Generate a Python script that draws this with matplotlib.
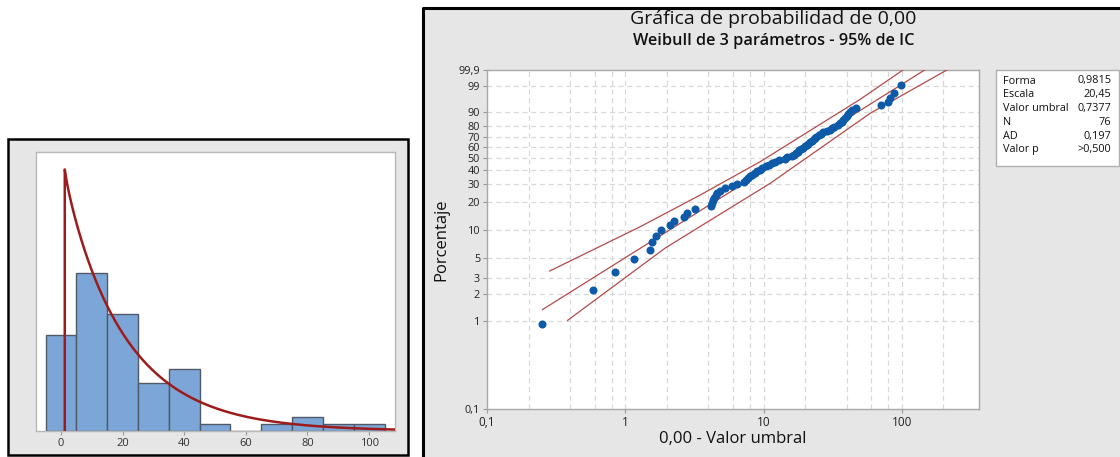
import numpy as np
import matplotlib
matplotlib.use("Agg")
import matplotlib.pyplot as plt
from matplotlib.patches import Rectangle
from matplotlib.lines import Line2D
from matplotlib.ticker import NullLocator, FixedLocator

plt.rcParams['font.family'] = ['Open Sans', 'DejaVu Sans']

# ---------------- data ----------------
title = "Gráfica de probabilidad de 0,00"
subtitle = "Weibull de 3 parámetros - 95% de IC"
xlabel = "0,00 - Valor umbral"
ylabel = "Porcentaje"

forma = 0.9815
escala = 20.45
umbral = 0.7377
n_obs = 76
stats_labels = ["Forma", "Escala", "Valor umbral", "N", "AD", "Valor p"]
stats_values = ["0,9815", "20,45", "0,7377", "76", "0,197", ">0,500"]

# sorted data minus threshold
x_shifted = [0.252, 0.584, 0.837, 1.162, 1.516, 1.56, 1.66, 1.80, 2.12, 2.24,
             2.67, 2.79, 3.21, 4.15, 4.27, 4.33, 4.40, 4.50, 4.63, 4.86,
             5.28, 5.94, 6.45, 7.25, 7.50, 7.75, 8.01, 8.28, 8.71, 9.00,
             9.46, 9.79, 10.46, 11.0, 11.47, 12.15, 12.99, 14.28, 14.84, 15.99,
             16.67, 17.24, 17.82, 18.12, 18.58, 19.21, 19.86, 20.53, 21.05, 21.77,
             22.50, 23.07, 23.65, 24.16, 25.07, 25.92, 27.02, 28.88, 30.11, 31.13,
             32.45, 34.68, 35.86, 36.77, 37.70, 38.65, 39.96, 40.97, 42.36, 43.79,
             46.8, 70.6, 80.1, 82.4, 88.6, 99.0]

# 95% confidence bands (value, percent)
ci_upper_x = [0.284, 1.284, 3.486, 9.465, 50.04, 102.0]
ci_upper_p = [3.59, 10.96, 23.3, 46.86, 95.99, 99.9]
ci_lower_x = [0.383, 1.946, 11.18, 59.1, 212.0]
ci_lower_p = [1.005, 6.44, 30.23, 89.29, 99.9]

y_ticks = [0.1, 1, 2, 3, 5, 10, 20, 30, 40, 50, 60, 70, 80, 90, 99, 99.9]
y_tick_labels = ["0,1", "1", "2", "3", "5", "10", "20", "30", "40", "50",
                 "60", "70", "80", "90", "99", "99,9"]
x_ticks = [0.1, 1, 10, 100]
x_tick_labels = ["0,1", "1", "10", "100"]
x_grid = [0.2, 0.4, 0.6, 0.8, 1, 2, 4, 6, 8, 10, 20, 40, 60, 80, 100, 200]

hist_edges = list(range(-5, 106, 10))
hist_ticks = [0, 20, 40, 60, 80, 100]

# ---------------- helpers ----------------
W, H = 1120, 457
fig = plt.figure(figsize=(W / 100, H / 100), dpi=100)
fig.patch.set_facecolor("white")


def fx(px):
    return px / W


def fy(py):
    return 1 - py / H


def wt(p):
    p = np.asarray(p, dtype=float) / 100.0
    return np.log10(-np.log(1 - p))


BG = "#e6e6e6"
RED = "#b54a4a"
BLUE = "#0d5aa8"

# ---------------- panel backgrounds ----------------
fig.patches.append(Rectangle((fx(422), 0), 1 - fx(422), fy(7), transform=fig.transFigure,
                             facecolor=BG, edgecolor="none", zorder=-10))
fig.lines.append(Line2D([fx(422.5), fx(422.5), 1], [0, fy(7.5), fy(7.5)],
                        transform=fig.transFigure, color="black", lw=2.2, zorder=-9))
fig.patches.append(Rectangle((fx(8), fy(455)), fx(408) - fx(8), fy(139) - fy(455),
                             transform=fig.transFigure, facecolor=BG, edgecolor="black",
                             lw=1.8, zorder=-10))

# ---------------- left: histogram ----------------
axh = fig.add_axes([fx(36), fy(431), fx(395) - fx(36), fy(152) - fy(431)])
axh.set_facecolor("white")
data = np.array(x_shifted) + umbral
axh.hist(data, bins=hist_edges, color="#7ca6d8", edgecolor="#4f5a66", linewidth=1.0, zorder=2)
t = np.linspace(0.5, 110, 500)
pdf = forma / escala * (t / escala) ** (forma - 1) * np.exp(-(t / escala) ** forma) * n_obs * 10
cx = np.concatenate([[umbral + t[0]], umbral + t])
cy = np.concatenate([[0], pdf])
axh.plot(cx, cy, color="#9c1c1c", lw=1.8, zorder=3)
axh.set_xlim(-8.1, 108.4)
axh.set_ylim(0, 40.6)
axh.set_yticks([])
axh.set_xticks(hist_ticks)
axh.set_xticklabels([str(v) for v in hist_ticks], fontsize=8, color="#333333")
axh.tick_params(axis="x", length=3, width=0.8, color="#999999", pad=2)
for s in axh.spines.values():
    s.set_color("#b8b8b8")
    s.set_linewidth(1.0)

# ---------------- right: probability plot ----------------
ax = fig.add_axes([fx(487), fy(409), fx(979) - fx(487), fy(70) - fy(409)])
ax.set_facecolor("white")
ax.set_xscale("log")
ax.set_xlim(0.1, 362)
ax.set_ylim(wt(0.1), wt(99.9))

# grid
for g in x_grid:
    ax.axvline(g, color="#d8d8d8", lw=0.9, ls=(0, (4, 3)), zorder=1)
for p in y_ticks[1:-1]:
    ax.axhline(wt(p), color="#d8d8d8", lw=0.9, ls=(0, (4, 3)), zorder=1)

n = len(x_shifted)
ranks = (np.arange(1, n + 1) - 0.3) / (n + 0.4) * 100
xs_sorted = np.sort(np.array(x_shifted))

# fitted line
xl = np.logspace(np.log10(xs_sorted[0]), np.log10(200), 300)
pl = (1 - np.exp(-(xl / escala) ** forma)) * 100
pl = np.clip(pl, 1e-6, 99.9999)
ax.plot(xl, wt(pl), color=RED, lw=0.9, zorder=3)
ax.plot(ci_upper_x, wt(ci_upper_p), color=RED, lw=0.9, zorder=3)
ax.plot(ci_lower_x, wt(ci_lower_p), color=RED, lw=0.9, zorder=3)

ax.plot(xs_sorted, wt(ranks), "o", color=BLUE, ms=5.8, mew=0, zorder=4)

ax.xaxis.set_major_locator(FixedLocator(x_ticks))
ax.xaxis.set_minor_locator(NullLocator())
ax.set_xticklabels(x_tick_labels, fontsize=8.5, color="#222222")
ax.set_yticks(wt(y_ticks))
ax.set_yticklabels(y_tick_labels, fontsize=7.8, color="#222222")
ax.tick_params(axis="both", length=3, width=0.8, color="#999999", pad=2)
ax.tick_params(axis="x", labelsize=8.5)
for s in ax.spines.values():
    s.set_color("#a8a8a8")
    s.set_linewidth(1.0)

# titles and labels
fig.text(fx(773), fy(19), title, ha="center", va="center", fontsize=14, color="#111111")
fig.text(fx(774), fy(41), subtitle, ha="center", va="center", fontsize=11.7,
         fontweight="semibold", color="#111111")
fig.text(fx(733), fy(439), xlabel, ha="center", va="center", fontsize=12, color="#111111")
fig.text(fx(441), fy(240), ylabel, ha="center", va="center", rotation=90, fontsize=12,
         color="#111111")

# stats box
fig.patches.append(Rectangle((fx(996), fy(166)), fx(1119) - fx(996), fy(70) - fy(166),
                             transform=fig.transFigure, facecolor="white",
                             edgecolor="#b0b0b0", lw=1.0, zorder=2))
for i, (lab, val) in enumerate(zip(stats_labels, stats_values)):
    yy = 81 + i * 13.8
    fig.text(fx(1003), fy(yy), lab, ha="left", va="center", fontsize=7.8, color="#111111", zorder=3)
    fig.text(fx(1111), fy(yy), val, ha="right", va="center", fontsize=7.8, color="#111111", zorder=3)

fig.savefig("out.png", dpi=100)
